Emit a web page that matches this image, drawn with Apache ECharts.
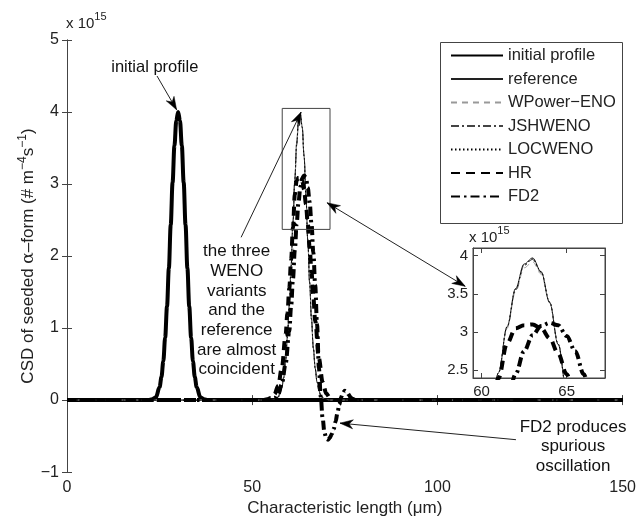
<!DOCTYPE html>
<html>
<head>
<meta charset="utf-8">
<script src="https://cdn.jsdelivr.net/npm/echarts@6/dist/echarts.min.js"></script>
<style>
  html, body { margin: 0; padding: 0; background: #fff; }
  #chart { width: 639px; height: 522px; }
</style>
</head>
<body>
<div id="chart"></div>
<script>
// values in units of 1e15 # m^-4 s^-1
const initX = [0, 22, 23, 24, 25, 25.5, 26, 26.5, 27, 27.5, 28, 28.5, 29, 29.5, 30, 30.5, 31, 31.5, 32, 32.5, 33, 33.5, 34, 34.5, 35, 36, 37, 38, 150];
const initY = [0, 0, 0.01, 0.04, 0.18, 0.32, 0.54, 0.87, 1.30, 1.83, 2.43, 3.02, 3.53, 3.88, 4.0, 3.88, 3.53, 3.02, 2.43, 1.83, 1.30, 0.87, 0.54, 0.32, 0.18, 0.04, 0.01, 0, 0];

const wenoX = [0, 54, 55, 56, 57, 57.5, 58, 58.5, 59, 59.5, 60, 60.5, 61, 61.5, 62, 62.5, 63, 63.5, 64, 64.5, 65, 65.5, 66, 66.5, 67, 67.5, 68, 68.5, 69, 70, 71, 150];
const refY    = [0, 0, 0.01, 0.01, 0.04, 0.09, 0.17, 0.31, 0.54, 0.87, 1.31, 1.86, 2.47, 3.07, 3.57, 3.89, 3.97, 3.79, 3.39, 2.84, 2.22, 1.63, 1.12, 0.72, 0.44, 0.25, 0.13, 0.065, 0.03, 0.01, 0, 0];
const wpowerY = [0, 0, 0.01, 0.02, 0.05, 0.10, 0.18, 0.33, 0.56, 0.89, 1.33, 1.88, 2.47, 3.05, 3.53, 3.84, 3.92, 3.76, 3.38, 2.85, 2.24, 1.66, 1.15, 0.75, 0.46, 0.27, 0.14, 0.07, 0.03, 0.01, 0, 0];
const jshY    = [0, 0, 0.01, 0.01, 0.04, 0.09, 0.18, 0.32, 0.55, 0.88, 1.32, 1.87, 2.47, 3.06, 3.55, 3.87, 3.95, 3.78, 3.39, 2.85, 2.23, 1.64, 1.13, 0.73, 0.45, 0.26, 0.13, 0.07, 0.03, 0.01, 0, 0];
const locY    = [0, 0, 0.01, 0.01, 0.04, 0.09, 0.17, 0.31, 0.54, 0.87, 1.31, 1.86, 2.47, 3.07, 3.56, 3.88, 3.96, 3.79, 3.39, 2.84, 2.22, 1.63, 1.12, 0.72, 0.44, 0.25, 0.13, 0.065, 0.03, 0.01, 0, 0];

const hrX = [0, 53, 54, 55, 56, 57, 58, 59, 59.5, 60, 60.5, 61, 61.5, 62, 62.5, 63, 63.5, 64, 64.5, 65, 65.5, 66, 66.5, 67, 68, 69, 70, 71, 72, 150];
const hrY = [0, 0, 0.01, 0.03, 0.08, 0.2, 0.45, 0.9, 1.2, 1.55, 1.95, 2.4, 2.85, 3.05, 3.09, 3.1, 3.05, 2.92, 2.72, 2.45, 2.12, 1.78, 1.43, 1.1, 0.58, 0.25, 0.09, 0.03, 0, 0];

const fd2X = [0, 55, 56, 57, 58, 59, 60, 60.5, 61, 61.5, 62, 62.5, 63, 63.5, 64, 64.5, 65, 65.5, 66, 66.5, 67, 67.5, 68, 68.5, 69, 69.5, 70, 70.5, 71, 71.5, 72, 72.5, 73, 73.5, 74, 74.5, 75, 75.5, 76, 76.5, 77, 78, 150];
const fd2Y = [0, 0, 0.02, 0.08, 0.22, 0.5, 0.95, 1.3, 1.68, 2.08, 2.45, 2.75, 2.96, 3.08, 3.12, 3.09, 2.95, 2.75, 2.45, 2.05, 1.6, 1.05, 0.45, 0.05, -0.25, -0.45, -0.54, -0.55, -0.52, -0.47, -0.4, -0.3, -0.18, -0.06, 0.04, 0.1, 0.13, 0.12, 0.08, 0.04, 0.02, 0, 0];

const insetXTicks = [60, 65];
const insetYTicks = [2.5, 3, 3.5, 4];

const FONT = 'Liberation Sans, Arial, Helvetica, sans-serif';
const zip = (xs, ys) => xs.map((x, i) => [x, ys[i]]);
const minus = v => String(v).replace('-', '\u2212');

const looks = {
  'initial profile': { color: '#000', width: 4, type: 'solid' },
  'reference': { color: '#222', width: 1, type: 'solid' },
  'WPower\u2212ENO': { color: '#999', width: 1, type: [6, 5] },
  'JSHWENO': { color: '#444', width: 1, type: [8, 3, 2, 3] },
  'LOCWENO': { color: '#000', width: 1, type: [1.5, 2.5] },
  'HR': { color: '#000', width: 4, type: [9, 6] },
  'FD2': { color: '#000', width: 4, type: [9, 4, 2.5, 4] }
};
const curves = [
  ['initial profile', zip(initX, initY)],
  ['reference', zip(wenoX, refY)],
  ['WPower\u2212ENO', zip(wenoX, wpowerY)],
  ['JSHWENO', zip(wenoX, jshY)],
  ['LOCWENO', zip(wenoX, locY)],
  ['HR', zip(hrX, hrY)],
  ['FD2', zip(fd2X, fd2Y)]
];

function lineSeries(name, data, xi, yi) {
  const s = looks[name];
  return {
    name, type: 'line', data, xAxisIndex: xi, yAxisIndex: yi,
    symbol: 'none', smooth: 0.35, smoothMonotone: 'x', clip: true,
    animation: false, silent: true,
    lineStyle: { color: s.color, width: s.width, type: s.type },
    itemStyle: { color: s.color }
  };
}

const series = [];
curves.forEach(([n, d]) => series.push(lineSeries(n, d, 0, 0)));
curves.slice(1).forEach(([n, d]) => series.push(lineSeries(n, d, 2, 2)));

const tickStyle = { inside: true, length: 5, lineStyle: { color: '#444' } };
const lineAx = { lineStyle: { color: '#444', width: 1 } };

const option = {
  animation: false,
  backgroundColor: '#fff',
  textStyle: { fontFamily: FONT },
  grid: [
    { left: 67, top: 40, width: 558, height: 438 },
    { left: 473, top: 248, width: 132, height: 130, show: true, backgroundColor: '#fff', borderColor: '#444', borderWidth: 1 }
  ],
  xAxis: [
    { gridIndex: 0, type: 'value', min: 0, max: 150, interval: 50, axisLine: lineAx, axisTick: tickStyle,
      axisLabel: { fontSize: 16, color: '#222', margin: 7, fontFamily: FONT },
      splitLine: { show: false },
      name: 'Characteristic length (\u03bcm)', nameLocation: 'middle', nameGap: 24,
      nameTextStyle: { fontSize: 17, color: '#222', fontFamily: FONT } },
    { gridIndex: 0, type: 'value', position: 'top', min: 0, max: 150, interval: 50, axisLine: lineAx, axisTick: tickStyle,
      axisLabel: { show: false }, splitLine: { show: false } },
    { gridIndex: 1, type: 'value', min: 59.5, max: 67.25, axisLine: lineAx,
      axisTick: Object.assign({ customValues: insetXTicks }, tickStyle),
      axisLabel: { customValues: insetXTicks, fontSize: 15, color: '#222', margin: 6, fontFamily: FONT },
      splitLine: { show: false } },
    { gridIndex: 1, type: 'value', position: 'top', min: 59.5, max: 67.25, axisLine: lineAx,
      axisTick: Object.assign({ customValues: insetXTicks }, tickStyle),
      axisLabel: { show: false }, splitLine: { show: false } }
  ],
  yAxis: [
    { gridIndex: 0, type: 'value', min: -1, max: 5, interval: 1, axisLine: lineAx, axisTick: tickStyle,
      axisLabel: { fontSize: 16, color: '#222', margin: 8, formatter: minus, fontFamily: FONT },
      splitLine: { show: false } },
    { gridIndex: 0, type: 'value', position: 'right', min: -1, max: 5, interval: 1, axisLine: lineAx, axisTick: tickStyle,
      axisLabel: { show: false }, splitLine: { show: false } },
    { gridIndex: 1, type: 'value', min: 2.4, max: 4.1, axisLine: lineAx,
      axisTick: Object.assign({ customValues: insetYTicks }, tickStyle),
      axisLabel: { customValues: insetYTicks, fontSize: 15, color: '#222', margin: 5, fontFamily: FONT },
      splitLine: { show: false } },
    { gridIndex: 1, type: 'value', position: 'right', min: 2.4, max: 4.1, axisLine: lineAx,
      axisTick: Object.assign({ customValues: insetYTicks }, tickStyle),
      axisLabel: { show: false }, splitLine: { show: false } }
  ],
  legend: {
    orient: 'vertical', left: 440, top: 42, z: 10,
    data: curves.map(c => c[0]),
    padding: [5, 0, 0, 10], itemWidth: 52, itemHeight: 16, itemGap: 6.5,
    selectedMode: false,
    itemStyle: { opacity: 0 },
    textStyle: { fontSize: 16.5, color: '#222', fontFamily: FONT, lineHeight: 16 }
  },
  series
};

const chart = echarts.init(document.getElementById('chart'));
chart.setOption(option);

// annotations, given in main-axis data coordinates
const initNote = { at: [23.7, 4.62], from: [24.3, 4.5], tip: [29.6, 4.03] };
const wenoNote = { lines: ['the three', 'WENO', 'variants', 'and the', 'reference', 'are almost', 'coincident'], top: [45.8, 2.2], from: [47.0, 2.26], tip: [63.2, 4.0] };
const zoomBox = { x0: 58.1, x1: 71.0, y0: 2.37, y1: 4.05 };
const zoomArrow = { a: [70.2, 2.74], b: [107.5, 1.58] };
const fd2Note = { lines: ['FD2 produces', 'spurious', 'oscillation'], top: [136.6, -0.24], from: [121.2, -0.55], tip: [73.7, -0.32] };

const px = p => chart.convertToPixel({ xAxisIndex: 0, yAxisIndex: 0 }, p);

function head(tip, from) {
  const dx = tip[0] - from[0], dy = tip[1] - from[1];
  const L = Math.hypot(dx, dy), ux = dx / L, uy = dy / L, nx = -uy, ny = ux;
  const len = 13, half = 4.5;
  const bx = tip[0] - ux * len, by = tip[1] - uy * len;
  return {
    type: 'polygon', z: 100,
    shape: { points: [tip, [bx + nx * half, by + ny * half], [tip[0] - ux * len * 0.7, tip[1] - uy * len * 0.7], [bx - nx * half, by - ny * half]] },
    style: { fill: '#000', stroke: '#000', lineWidth: 0.5 }
  };
}
function arrow(fromD, tipD, both) {
  const a = px(fromD), b = px(tipD);
  const out = [{ type: 'line', z: 99, shape: { x1: a[0], y1: a[1], x2: b[0], y2: b[1] }, style: { stroke: '#222', lineWidth: 1 } }, head(b, a)];
  if (both) out.push(head(a, b));
  return out;
}
function label(text, posD, opts) {
  const p = px(posD);
  return {
    type: 'text', z: 100, x: p[0], y: p[1],
    style: Object.assign({ text, fill: '#111', font: '16.5px ' + FONT, align: 'center', verticalAlign: 'middle' }, opts || {})
  };
}

const tl = px([zoomBox.x0, zoomBox.y1]), br = px([zoomBox.x1, zoomBox.y0]);
const insetCorner = chart.convertToPixel({ xAxisIndex: 2, yAxisIndex: 2 }, [59.5, 4.1]);
const mainCorner = px([0, 5]);
const midY = px([0, 2])[1];

const sci = (p) => ({
  type: 'text', z: 100, x: p[0], y: p[1],
  style: {
    text: '{n|x 10}{s|15}', fill: '#222', align: 'left', verticalAlign: 'bottom',
    rich: { n: { font: '15px ' + FONT, fill: '#222', lineHeight: 20, verticalAlign: 'bottom' }, s: { font: '11px ' + FONT, fill: '#222', lineHeight: 20, verticalAlign: 'top' } }
  }
});

const yName = {
  type: 'text', z: 100, x: 27, y: midY, rotation: Math.PI / 2,
  style: {
    text: '{n|CSD of seeded }{g|\u03b1}{n|\u2013form (# m}{s|\u22124}{n|s}{s|\u22121}{n|)}',
    align: 'center', verticalAlign: 'middle', fill: '#222',
    rich: {
      n: { font: '17px ' + FONT, fill: '#222', lineHeight: 20, verticalAlign: 'bottom' },
      g: { font: '17px DejaVu Serif, serif', fill: '#222', lineHeight: 20, verticalAlign: 'bottom' },
      s: { font: '12px ' + FONT, fill: '#222', lineHeight: 20, verticalAlign: 'top' }
    }
  }
};

chart.setOption({
  graphic: [
    { type: 'rect', z: 3, shape: { x: 440.5, y: 42.5, width: 182, height: 181 }, style: { fill: '#fff', stroke: '#444', lineWidth: 1 } },
    yName,
    label('initial profile', initNote.at),
    ...arrow(initNote.from, initNote.tip),
    label(wenoNote.lines.join('\n'), wenoNote.top, { verticalAlign: 'top', lineHeight: 19.7, font: '17px ' + FONT }),
    ...arrow(wenoNote.from, wenoNote.tip),
    { type: 'rect', z: 98, shape: { x: tl[0], y: tl[1], width: br[0] - tl[0], height: br[1] - tl[1] }, style: { fill: null, stroke: '#444', lineWidth: 1 } },
    ...arrow(zoomArrow.a, zoomArrow.b, true),
    label(fd2Note.lines.join('\n'), fd2Note.top, { verticalAlign: 'top', lineHeight: 19.5, font: '17px ' + FONT }),
    ...arrow(fd2Note.from, fd2Note.tip),
    sci([mainCorner[0] - 1, mainCorner[1] - 9]),
    sci([insetCorner[0] - 4, insetCorner[1] - 3])
  ]
});
</script>
</body>
</html>
